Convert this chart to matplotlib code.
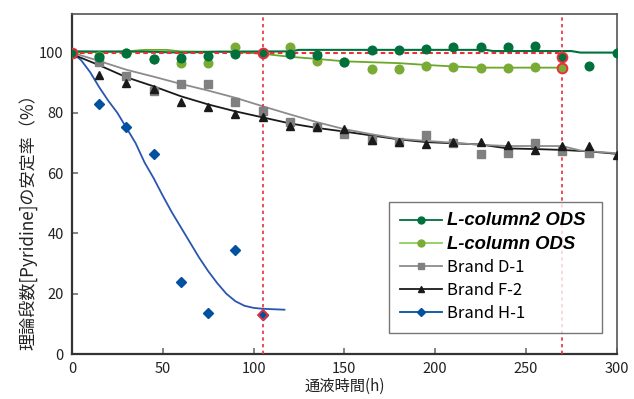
import matplotlib
matplotlib.use("Agg")
import matplotlib.pyplot as plt
from matplotlib.lines import Line2D

plt.rcParams['font.family'] = ['Noto Sans CJK JP', 'DejaVu Sans']

# ---------------- data ----------------
series_names = ["L-column2 ODS", "L-column ODS", "Brand D-1", "Brand F-2", "Brand H-1"]

# measured points
dg_x = [0, 15, 30, 45, 60, 75, 90, 105, 120, 135, 150, 165, 180, 195, 210, 225, 240, 255, 270, 285, 300]
dg_y = [100, 98.7, 99.8, 97.9, 98.1, 98.9, 99.6, 100, 99.6, 99.2, 97.0, 100.7, 100.7, 101.1, 101.8, 101.9, 101.8, 102.2, 98.7, 95.6, 99.8]

lg_x = [0, 15, 30, 45, 60, 75, 90, 105, 120, 135, 150, 165, 180, 195, 210, 225, 240, 255, 270]
lg_y = [100, 98.9, 99.8, 98.0, 96.7, 96.7, 101.7, 100, 102.0, 97.2, 97.0, 94.7, 94.7, 95.4, 95.2, 94.9, 94.9, 95.2, 94.9]

d1_x = [0, 15, 30, 45, 60, 75, 90, 105, 120, 135, 150, 165, 180, 195, 210, 225, 240, 255, 270, 285]
d1_y = [100, 97.0, 92.3, 87.3, 89.6, 89.6, 83.5, 80.7, 77.1, 75.4, 73.0, 71.0, 70.5, 72.6, 69.9, 66.4, 66.7, 70.1, 67.5, 66.7]

f2_x = [0, 15, 30, 45, 60, 75, 90, 105, 120, 135, 150, 165, 180, 195, 210, 225, 240, 255, 270, 285, 300]
f2_y = [100, 92.4, 90.0, 88.0, 83.5, 81.8, 79.7, 78.5, 75.8, 75.4, 74.5, 71.0, 70.2, 69.8, 70.4, 70.5, 69.4, 67.7, 68.9, 68.9, 66.0]

h1_x = [0, 15, 30, 45, 60, 75, 90, 105]
h1_y = [100, 83.0, 75.2, 66.3, 23.9, 13.7, 34.4, 12.8]

# trend lines
dg_line_x = [0, 40, 60, 80, 120, 125, 228, 232, 275, 280, 300]
dg_line_y = [100.4, 100.3, 100.0, 100.3, 100.4, 100.9, 100.9, 100.5, 100.5, 100.0, 100.0]

lg_line_x = [0, 15, 30, 40, 52, 60, 75, 90, 105, 120, 135, 150, 165, 180, 195, 210, 225, 240, 255, 270]
lg_line_y = [100, 100.2, 100.4, 100.9, 100.9, 100.4, 100.3, 100.2, 99.6, 98.6, 97.9, 97.1, 96.8, 96.5, 95.9, 95.4, 95.0, 95.0, 95.0, 95.0]

d1_line_x = [0, 15, 30, 45, 60, 75, 90, 105, 120, 135, 150, 165, 180, 195, 210, 225, 240, 255, 270, 280, 300]
d1_line_y = [100, 97.2, 94.3, 92.0, 89.6, 87.4, 85.0, 82.2, 79.5, 76.9, 74.6, 72.9, 71.4, 70.7, 70.1, 69.4, 69.0, 69.0, 69.0, 67.5, 66.6]

f2_line_x = [0, 15, 30, 45, 60, 75, 90, 105, 120, 135, 150, 165, 180, 195, 210, 225, 240, 255, 270, 285, 300]
f2_line_y = [99.5, 95.8, 91.8, 88.8, 85.5, 82.8, 80.5, 78.5, 76.5, 75.0, 73.8, 72.5, 71.2, 70.3, 69.9, 69.5, 68.2, 68.0, 67.7, 67.2, 66.4]

h1_line_x = [0, 5, 10, 15, 20, 25, 30, 35, 40, 45, 50, 55, 60, 65, 70, 75, 80, 85, 90, 95, 100, 105, 117]
h1_line_y = [100, 97.5, 93.5, 88.5, 84.0, 80.0, 75.0, 70.0, 63.5, 58.3, 52.5, 47.0, 42.0, 37.0, 32.0, 27.5, 23.5, 20.0, 17.5, 16.0, 15.3, 15.0, 14.7]

# highlighted (red-outlined) points
hl_dg_x = [0, 105, 270]
hl_dg_y = [100, 100, 98.7]
hl_lg_x = [270]
hl_lg_y = [94.9]
hl_h1_x = [105]
hl_h1_y = [12.8]

ref_level = 100
ref_times = [105, 270]

x_ticks = [0, 50, 100, 150, 200, 250, 300]
y_ticks = [0, 20, 40, 60, 80, 100]

# ---------------- style ----------------
c_dg = "#00703c"
c_lg = "#7aab35"
c_lg_line = "#6aa82a"
c_d1 = "#808080"
c_f2 = "#1a1a1a"
c_h1 = "#0052a0"
c_h1_line = "#2a55b0"
c_red = "#e8303c"

fig = plt.figure(figsize=(6.34, 3.99), dpi=100)
ax = fig.add_axes([72/634, 45/399, (616.7-72)/634, (354-14)/399])

# reference lines
ax.plot([0, ref_times[1]], [ref_level, ref_level], color=c_red, ls=(0, (2.2, 1.6)), lw=1.5, zorder=3)
for t in ref_times:
    ax.axvline(t, color=c_red, ls=(0, (2, 2)), lw=1.2, zorder=3)

# trend lines
ax.plot(h1_line_x, h1_line_y, color=c_h1_line, lw=1.3, zorder=2)
ax.plot(f2_line_x, f2_line_y, color=c_f2, lw=1.3, zorder=2)
ax.plot(d1_line_x, d1_line_y, color="#8c8c8c", lw=1.3, zorder=2)
ax.plot(lg_line_x, lg_line_y, color=c_lg_line, lw=1.3, zorder=2)
ax.plot(dg_line_x, dg_line_y, color=c_dg, lw=1.5, zorder=2)

# points
ax.plot(d1_x, d1_y, ls='none', marker='s', ms=5.2, color=c_d1, mec=c_d1, zorder=4)
ax.plot(f2_x, f2_y, ls='none', marker='^', ms=6.2, color=c_f2, mec=c_f2, zorder=4)
ax.plot(h1_x, h1_y, ls='none', marker='D', ms=4.6, color=c_h1, mec=c_h1, zorder=4)
ax.plot(lg_x, lg_y, ls='none', marker='o', ms=6.2, color=c_lg, mec=c_lg, zorder=5)
ax.plot(dg_x, dg_y, ls='none', marker='o', ms=6.2, color=c_dg, mec=c_dg, zorder=6)

# highlighted points
ax.plot(hl_h1_x, hl_h1_y, ls='none', marker='D', ms=5.2, color=c_h1, mec=c_red, mew=1.3, zorder=7)
ax.plot(hl_lg_x, hl_lg_y, ls='none', marker='o', ms=7, color=c_lg, mec=c_red, mew=1.4, zorder=7)
ax.plot(hl_dg_x, hl_dg_y, ls='none', marker='o', ms=7, color=c_dg, mec=c_red, mew=1.4, zorder=7)

ax.set_xlim(0, 300)
ax.set_ylim(0, 112.8)
ax.set_xticks(x_ticks)
ax.set_yticks(y_ticks)
ax.tick_params(direction='in', length=4, width=1.2, color='#707070', labelsize=10.5,
               labelcolor='#222222', pad=6)
for side in ['left', 'bottom']:
    ax.spines[side].set_linewidth(1.6)
    ax.spines[side].set_color('#333333')
for side in ['top', 'right']:
    ax.spines[side].set_linewidth(1.2)
    ax.spines[side].set_color('#555555')

ax.set_xlabel("通液時間(h)", fontsize=11, labelpad=1, color='#222222')
ax.set_ylabel("理論段数[Pyridine]の安定率（%）", fontsize=12.3, color='#222222')
ax.yaxis.set_label_coords(-0.064, 0.40)

# legend
handles = [
    Line2D([], [], color=c_dg, marker='o', ms=5, lw=1.3),
    Line2D([], [], color="#8cd060", marker='o', ms=5, mfc=c_lg, mec=c_lg, lw=1.3),
    Line2D([], [], color="#8c8c8c", marker='s', ms=4.5, mfc=c_d1, mec=c_d1, lw=1.3),
    Line2D([], [], color=c_f2, marker='^', ms=5, lw=1.3),
    Line2D([], [], color=c_h1, marker='D', ms=4, lw=1.3),
]
leg = ax.legend(handles, series_names, loc='lower left', bbox_to_anchor=(0.582, 0.062, 0.391, 0.384),
                mode='expand', frameon=True, fancybox=False, edgecolor='#555555',
                fontsize=12, handlelength=2.5, handletextpad=0.35, labelspacing=0.37,
                borderpad=0.65, borderaxespad=0)
leg.get_frame().set_linewidth(1.0)
for i, t in enumerate(leg.get_texts()):
    if i < 2:
        t.set_fontfamily(['Liberation Sans'])
        t.set_fontweight('bold')
        t.set_fontstyle('italic')
        t.set_fontsize(13.3)

fig.savefig("out.png", dpi=100)
